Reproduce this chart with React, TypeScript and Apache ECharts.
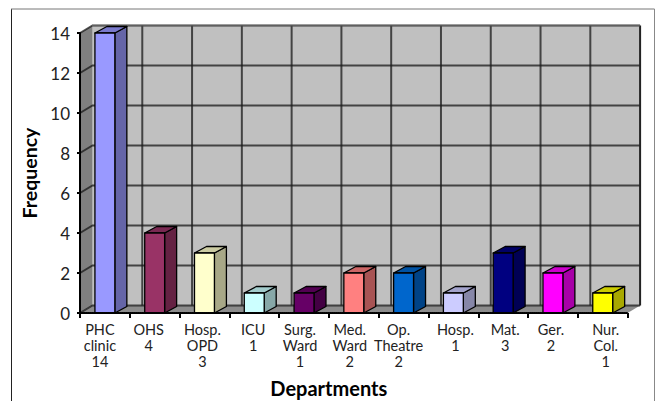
import React, { useEffect, useRef } from "react";
import * as echarts from "echarts";

const categories = ["PHC\nclinic\n14", "OHS\n4", "Hosp.\nOPD\n3", "ICU\n1", "Surg.\nWard\n1", "Med.\nWard\n2", "Op.\nTheatre\n2", "Hosp.\n1", "Mat.\n3", "Ger.\n2", "Nur.\nCol.\n1"];
const frequency = [14, 4, 3, 1, 1, 2, 2, 1, 3, 2, 1];
const barColors = ["#9999FF", "#993366", "#FFFFCC", "#CCFFFF", "#660066", "#FF8080", "#0066CC", "#CCCCFF", "#000080", "#FF00FF", "#FFFF00"];
const yTicks = [0, 2, 4, 6, 8, 10, 12, 14];
const labelShift = [-5, -6, -2, -1, -4, -4, -5, 2, 2, -2, 3];

const FONT = "Lato";
const DX = 12.5;
const DY = 7.5;

function shade(hex: string, f: number) {
  const n = parseInt(hex.slice(1), 16);
  const c = [(n >> 16) & 255, (n >> 8) & 255, n & 255].map((v) => Math.round(v * f));
  return `rgb(${c[0]},${c[1]},${c[2]})`;
}

const rich: Record<string, any> = {};
labelShift.forEach((s, i) => {
  rich["s" + i] = {
    fontFamily: FONT,
    fontSize: 14.5,
    lineHeight: 16,
    color: "#222",
    padding: s < 0 ? [0, -2 * s, 0, 0] : [0, 0, 0, 2 * s],
  };
});

function renderWalls(params: any, api: any) {
  const cs = params.coordSys;
  const band = api.size([1, 0])[0];
  const x0 = cs.x, x1 = cs.x + cs.width;
  const yB = cs.y + cs.height;
  const children: any[] = [];
  const gridStyle = { stroke: "rgba(25,25,25,0.75)", lineWidth: 2 };
  children.push({
    type: "polygon",
    shape: { points: [[x0 + DX, cs.y - DY], [x1 + DX, cs.y - DY], [x1 + DX, yB - DY], [x0 + DX, yB - DY]] },
    style: { fill: "#C0C0C0" },
  });
  children.push({
    type: "polygon",
    shape: { points: [[x0, cs.y], [x0 + DX, cs.y - DY], [x0 + DX, yB - DY], [x0, yB]] },
    style: { fill: "#808080" },
  });
  children.push({
    type: "polygon",
    shape: { points: [[x0, yB], [x0 + DX, yB - DY], [x1 + DX, yB - DY], [x1, yB]] },
    style: { fill: "#8c8c8c" },
  });
  yTicks.forEach((t) => {
    const y = api.coord([0, t])[1];
    children.push({ type: "polyline", shape: { points: [[x0, y], [x0 + DX, y - DY], [x1 + DX, y - DY]] }, style: { ...gridStyle, fill: "none" } });
  });
  categories.forEach((_, i) => {
    const x = x0 + band * (i + 1) + DX;
    children.push({
      type: "line",
      shape: { x1: x, y1: cs.y - DY, x2: x, y2: yB - DY },
      style: i === categories.length - 1 ? { stroke: "#222", lineWidth: 2 } : gridStyle,
    });
  });
  children.push({
    type: "line",
    shape: { x1: x0 + DX, y1: cs.y - DY, x2: x1 + DX, y2: cs.y - DY },
    style: { stroke: "#777", lineWidth: 2, lineDash: [1, 1] },
  });
  return { type: "group", children };
}

function renderBar(params: any, api: any) {
  const i = api.value(0);
  const v = api.value(1);
  const top = api.coord([i, v]);
  const base = api.coord([i, 0]);
  const band = api.size([1, 0])[0];
  const w = band * 0.4;
  const left = top[0] - w / 2;
  const right = top[0] + w / 2;
  const dx = 12;
  const dy = 6.5;
  const color = barColors[params.dataIndex];
  const edge = { stroke: "#000", lineWidth: 1.3, lineJoin: "round" };
  return {
    type: "group",
    children: [
      {
        type: "polygon",
        shape: { points: [[right, top[1]], [right + dx, top[1] - dy], [right + dx, base[1] - dy], [right, base[1]]] },
        style: { ...edge, fill: shade(color, 0.66) },
      },
      {
        type: "polygon",
        shape: { points: [[left, top[1]], [left + dx, top[1] - dy], [right + dx, top[1] - dy], [right, top[1]]] },
        style: { ...edge, fill: shade(color, 0.8) },
      },
      {
        type: "polygon",
        shape: { points: [[left, top[1]], [right, top[1]], [right, base[1]], [left, base[1]]] },
        style: { ...edge, fill: color },
      },
    ],
  };
}

export default function App() {
  const ref = useRef<HTMLDivElement>(null);
  useEffect(() => {
    const chart = echarts.init(ref.current!, undefined, { renderer: "svg", width: 660, height: 401 });
    chart.setOption({
      animation: false,
      backgroundColor: "#fff",
      grid: { left: 80, right: 32.4, top: 33, bottom: 88, containLabel: false, outerBoundsMode: "none" },
      graphic: [
        { type: "line", shape: { x1: 11.5, y1: 9, x2: 11.5, y2: 401 }, style: { stroke: "#222", lineWidth: 1 } },
        { type: "line", shape: { x1: 11, y1: 9, x2: 654.5, y2: 9 }, style: { stroke: "#777", lineWidth: 1 } },
        { type: "line", shape: { x1: 654.5, y1: 9, x2: 654.5, y2: 401 }, style: { stroke: "#888", lineWidth: 1 } },
      ],
      xAxis: {
        type: "category",
        data: categories,
        name: "Departments",
        nameLocation: "middle",
        nameGap: 65,
        nameTextStyle: { fontFamily: FONT, fontSize: 20, fontWeight: "bold", color: "#000", padding: [0, 50, 0, 0] },
        axisLine: { lineStyle: { color: "#000", width: 2, type: [1, 1] } },
        axisTick: { show: true, length: 5, lineStyle: { color: "#000", width: 2 } },
        axisLabel: {
          interval: 0,
          margin: 8,
          formatter: (value: string, index: number) =>
            value.split("\n").map((l) => `{s${index}|${l}}`).join("\n"),
          rich,
        },
        splitLine: { show: false },
        z: 5,
      },
      yAxis: {
        type: "value",
        min: 0,
        max: 14,
        interval: 2,
        name: "Frequency",
        nameLocation: "middle",
        nameGap: 40,
        nameTextStyle: { fontFamily: FONT, fontSize: 19.5, fontWeight: "bold", color: "#000" },
        axisLine: { show: true, lineStyle: { color: "#000", width: 2 } },
        axisTick: { show: true, length: 3, lineStyle: { color: "#000", width: 2 } },
        axisLabel: { fontFamily: FONT, fontSize: 17, color: "#222", margin: 10, padding: [3, 0, 0, 0] },
        splitLine: { show: false },
        z: 5,
      },
      series: [
        { type: "custom", z: 1, renderItem: renderWalls, data: [[0, 0]], silent: true, clip: false },
        {
          type: "custom",
          z: 2,
          renderItem: renderBar,
          encode: { x: 0, y: 1 },
          data: frequency.map((v, i) => [i, v]),
          clip: false,
        },
      ],
    });
    return () => chart.dispose();
  }, []);
  return <div ref={ref} style={{ position: "absolute", left: 0, top: 0, width: 660, height: 401 }} />;
}
